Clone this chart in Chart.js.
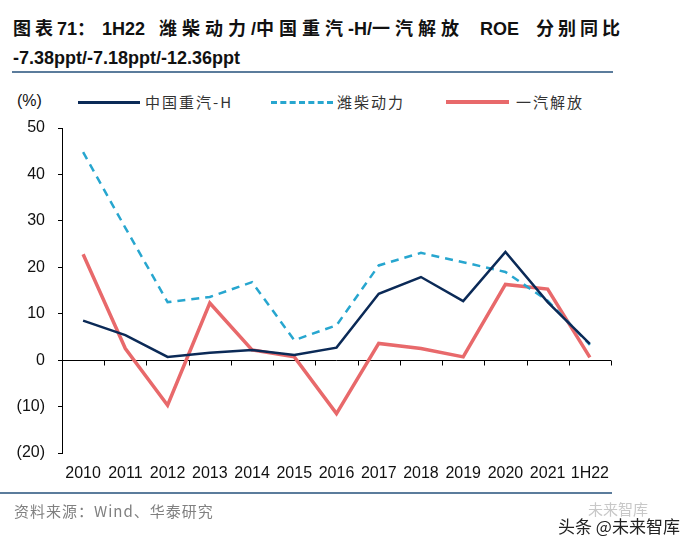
<!DOCTYPE html>
<html><head><meta charset="utf-8">
<script src="https://cdn.jsdelivr.net/npm/chart.js@4.4.0/dist/chart.umd.min.js"></script>
<style>
html,body{margin:0;padding:0;background:#fff;width:700px;height:548px;overflow:hidden;}
body{position:relative;font-family:"Liberation Sans","Noto Sans CJK SC",sans-serif;}
.t{position:absolute;white-space:pre;font-weight:700;font-size:18px;color:#111;line-height:20px;}
.cj{letter-spacing:4px;}
.cj5{letter-spacing:5px;}
.rule{position:absolute;height:2px;background:#5b7c9c;}
.lg{position:absolute;font-size:15px;color:#333;letter-spacing:2px;font-family:"Noto Sans CJK SC","Liberation Sans",sans-serif;line-height:18px;}
.ll{position:absolute;height:0;}
#wrap{position:absolute;left:0;top:0;width:700px;height:548px;}
</style></head><body>
<div class="t" style="left:13px;top:19px;"><span class="cj">图表</span>71：</div>
<div class="t" style="left:102px;top:19px;">1H22</div>
<div class="t" style="left:159px;top:19px;"><span class="cj5">潍柴动力</span>/<span class="cj5">中国重汽</span>-H/<span class="cj5">一汽解放</span></div>
<div class="t" style="left:480px;top:19px;">ROE</div>
<div class="t cj" style="left:536px;top:19px;">分别同比</div>
<div class="t" style="left:13px;top:48px;">-7.38ppt/-7.18ppt/-12.36ppt</div>
<div class="rule" style="left:12px;top:71px;width:601px;"></div>

<div class="lg" style="left:17px;top:92px;font-family:'Liberation Sans';letter-spacing:0;font-size:16px;color:#111;">(%)</div>
<div class="ll" style="left:78px;top:101px;width:62px;border-top:3px solid #0b2a57;"></div>
<div class="lg" style="left:145px;top:93px;">中国重汽-H</div>
<div class="ll" style="left:271px;top:101px;width:62px;border-top:3px dashed #27a6cf;"></div>
<div class="lg" style="left:337px;top:93px;">潍柴动力</div>
<div class="ll" style="left:446px;top:100px;width:63px;border-top:4px solid #e8696b;"></div>
<div class="lg" style="left:516px;top:93px;">一汽解放</div>

<div id="wrap"><canvas id="c" width="700" height="548"></canvas></div>

<div class="rule" style="left:0px;top:492px;width:612px;"></div>
<div style="position:absolute;left:14px;top:500px;font-size:15px;color:#808080;letter-spacing:1px;font-family:'Noto Sans CJK SC','Liberation Sans',sans-serif;">资料来源：Wind、华泰研究</div>
<div style="position:absolute;left:588px;top:498px;font-size:15px;color:#c8c8c8;font-family:'Noto Sans CJK SC',sans-serif;">未来智库</div>
<div style="position:absolute;left:558px;top:513px;font-size:17px;color:#222;font-family:'Noto Sans CJK SC',sans-serif;">头条 @未来智库</div>

<script>
const categories = ["2010","2011","2012","2013","2014","2015","2016","2017","2018","2019","2020","2021","1H22"];
const sinotruk = [8.5, 5.4, 0.7, 1.6, 2.2, 1.1, 2.7, 14.3, 17.9, 12.7, 23.3, 12.5, 3.5];
const weichai = [44.8, 28.5, 12.5, 13.6, 16.8, 4.3, 7.5, 20.4, 23.1, 21.1, 19.0, 12.8, 3.3];
const faw = [22.8, 2.5, -9.7, 12.3, 2.2, 0.7, -11.5, 3.6, 2.5, 0.7, 16.3, 15.3, 0.6];
const yTicks = [50, 40, 30, 20, 10, 0, -10, -20];

const zeroLine = {
  id: 'zeroLine',
  beforeDatasetsDraw(chart) {
    const ctx = chart.ctx, x = chart.scales.x, y = chart.scales.y;
    const y0 = Math.round(y.getPixelForValue(0)) + 0.5;
    ctx.save();
    ctx.strokeStyle = '#000';
    ctx.lineWidth = 1;
    ctx.beginPath();
    ctx.moveTo(x.left, y0); ctx.lineTo(x.right, y0);
    for (let i = 1; i <= categories.length; i++) {
      const px = Math.round((x.getPixelForValue(i - 1) + x.getPixelForValue(Math.min(i, categories.length - 1))) / 2);
      const xx = (i === categories.length ? x.right : px) + 0.5;
      ctx.moveTo(xx, y0); ctx.lineTo(xx, y0 + 5);
    }
    ctx.stroke();
    ctx.restore();
  }
};

new Chart(document.getElementById('c'), {
  type: 'line',
  data: {
    labels: categories,
    datasets: [
      {label: '一汽解放', data: faw, borderColor: '#e8696b', borderWidth: 3.5, pointRadius: 0, tension: 0, order: 3},
      {label: '中国重汽-H', data: sinotruk, borderColor: '#0b2a57', borderWidth: 2.5, pointRadius: 0, tension: 0, order: 1},
      {label: '潍柴动力', data: weichai, borderColor: '#27a6cf', borderWidth: 2.5, borderDash: [8, 6], pointRadius: 0, tension: 0, order: 2}
    ]
  },
  options: {
    responsive: false,
    animation: false,
    devicePixelRatio: 1,
    layout: {padding: {left: 0, top: 128, right: 89, bottom: 65}},
    plugins: {legend: {display: false}, tooltip: {enabled: false}},
    scales: {
      x: {
        offset: true,
        grid: {display: false, drawTicks: false},
        border: {display: false},
        ticks: {color: '#111', font: {family: 'Liberation Sans', size: 16}, padding: 11, maxRotation: 0, autoSkip: false},
        afterFit(s) { s.height = 30; }
      },
      y: {
        min: -20, max: 50,
        afterBuildTicks(s) { s.ticks = yTicks.map(v => ({value: v})); },
        grid: {drawOnChartArea: false, drawTicks: true, tickLength: 4, color: '#000', tickColor: '#000'},
        border: {display: true, color: '#000', width: 1},
        ticks: {color: '#111', font: {family: 'Liberation Sans', size: 16}, padding: 13,
          callback: v => v < 0 ? '(' + Math.abs(v) + ')' : String(v)},
        afterFit(s) { s.width = 62; }
      }
    }
  },
  plugins: [zeroLine]
});
</script>
</body></html>
